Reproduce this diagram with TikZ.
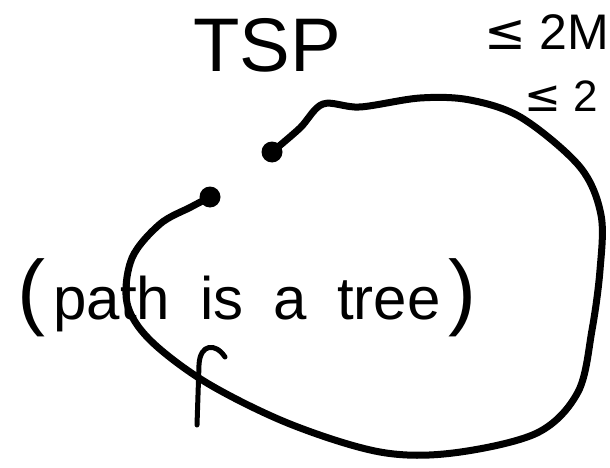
\documentclass[tikz,border=0pt]{standalone}
\usepackage{fontspec}
\newfontfamily\handfont{Liberation Sans}
\newfontfamily\symfont{DejaVu Sans}
\newcommand\gap{\hspace{30pt}}

\begin{document}
\begin{tikzpicture}[x=1pt, y=-1pt,
    pen/.style={line width=7pt, line cap=round, line join=round},
    dotnode/.style={circle, fill=black, inner sep=0pt, minimum size=21pt},
    scrawl/.style={inner sep=0pt, font=\handfont\fontsize{#1}{#1}\selectfont}
]
    \clip (0,0) rectangle (610,468);

    \node[scrawl=76] (tsp) at (267,45) {TSP};
    \node[scrawl=50, anchor=west] (bound1) at (484,32) {{\symfont ≤} 2M};
    \node[scrawl=44, anchor=west] (bound2) at (524,96) {{\symfont ≤} 2};
    \node[scrawl=60] (note) at (247,298) {\fontsize{84}{84}\selectfont(\hspace{8pt}\fontsize{60}{60}\selectfont
        path\gap is\gap a\gap tree\hspace{8pt}\fontsize{84}{84}\selectfont)};

    % the tour, open between two end points
    \node[dotnode] (start) at (272,152) {};
    \node[dotnode] (end) at (210,197) {};
    \draw[pen] plot[smooth, tension=0.55] coordinates {(start.center) (300,128) (323,104)
        (360,107) (420,98) (470,100) (522,118) (580,167) (601,215) (600,270) (592,330)
        (578,392) (537,433) (453,453) (380,452) (290,424) (207,383) (150,340) (127,303)
        (132,258) (160,224) (191,207) (end.center)};

    % stray hook below the note
    \draw[pen, line width=5pt] (225,357) .. controls (216,343) and (200,343) .. (199,365) -- (197,425);
\end{tikzpicture}
\end{document}
